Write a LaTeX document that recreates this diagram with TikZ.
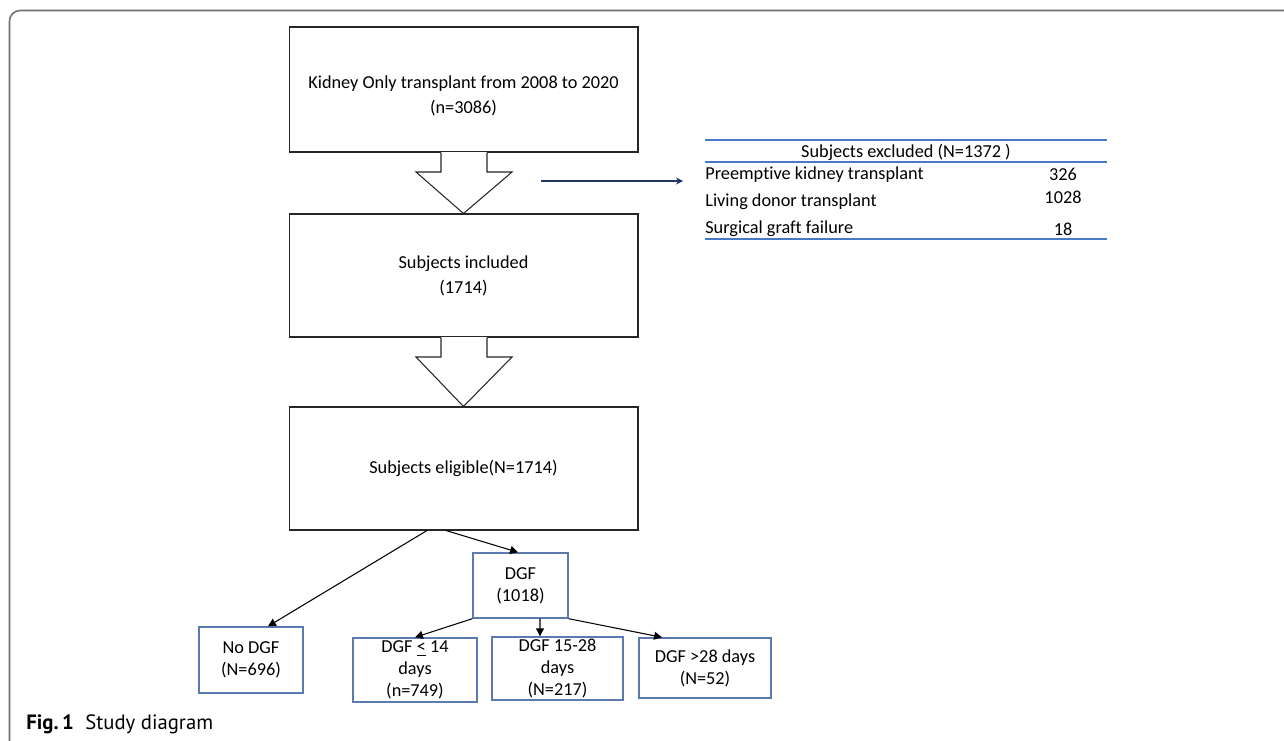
\documentclass[tikz,border=0pt]{standalone}
\usepackage{fontspec}
\setmainfont{Carlito}[Ligatures=NoCommon,RawFeature=-calt]
\newfontfamily\capfont{PT Sans}
\usetikzlibrary{arrows.meta}
\usetikzlibrary{positioning}
\usetikzlibrary{calc}

\definecolor{boxblue}{HTML}{5A7AB0}
\definecolor{ruleblue}{HTML}{4A78C8}
\definecolor{navy}{HTML}{1F3864}
\definecolor{framegray}{HTML}{707070}

\begin{document}
\begin{tikzpicture}[x=0.02cm,y=-0.02cm,
   font=\fontsize{10.4}{14.2}\selectfont,
   bigbox/.style={draw=black!85,line width=0.6pt,minimum width=6.98cm,inner sep=0pt,align=center},
   smallbox/.style={draw=boxblue,line width=0.8pt,inner sep=0pt,align=center,font=\fontsize{10.4}{12.5}\selectfont},
   link/.style={-{Triangle[length=4.5pt,width=4.5pt]},line width=0.6pt},
   blockarrow/.style={draw=black!85,line width=0.6pt,fill=white}]
   \useasboundingbox (0,0) rectangle (1284,740);
   % frame and caption
   \draw[framegray,line width=0.9pt,rounded corners=6pt] (9.5,745) -- (9.5,10.5) -- (1295,10.5);
   \node[anchor=base west,inner sep=0pt] (cap) at (26,729)
      {\capfont\fontsize{11.8}{14}\selectfont\bfseries Fig.\,1\hspace{6.5pt}\mdseries Study diagram};

   % main column
   \node[bigbox,minimum height=2.5cm] (kidney) at (463.5,89.5)
      {\rule{0pt}{15pt}Kidney Only transplant from 2008 to 2020\\(n=3086)};
   \node[bigbox,minimum height=2.46cm] (incl) at (463.5,275.5)
      {Subjects included\\(1714)};
   \node[bigbox,minimum height=2.46cm] (elig) at (463.5,468.5)
      {Subjects eligible(N=1714)};

   % block arrows between the boxes
   \foreach \a/\b in {kidney/incl,incl/elig}{
     \fill[white] ($(\a.south)+(-23,-1)$) rectangle ($(\a.south)+(23,1)$);
     \draw[blockarrow] ($(\a.south)+(-22.5,0)$) -- ++(0,19.5) -- ++(-25,0)
        -- (\b.north) -- ($(\a.south)+(48.5,19.5)$) -- ++(-25,0) -- ($(\a.south)+(23.5,0)$);
   }

   % DGF split
   \node[smallbox,minimum width=1.9cm,minimum height=1.3cm] (dgf) at (520.5,585.5)
      {DGF\\(1018)};
   \node[smallbox,minimum width=2.08cm,minimum height=1.32cm] (nodgf) at (251,660)
      {No DGF\\(N=696)};
   \node[smallbox,minimum width=2.48cm,minimum height=1.28cm] (dgfa) at (415,670)
      {DGF \underline{<} 14\\days\\(n=749)};
   \node[smallbox,minimum width=2.62cm,minimum height=1.26cm] (dgfb) at (557.5,668.5)
      {DGF 15-28\\days\\(N=217)};
   \node[smallbox,minimum width=2.64cm,minimum height=1.2cm] (dgfc) at (705,668)
      {DGF >28 days\\(N=52)};

   \draw[link] ($(elig.south)+(-36.5,0)$) -- ($(nodgf.north)+(17,0)$);
   \draw[link] ($(elig.south)+(-17.5,0)$) -- ($(dgf.north)+(-2.5,0)$);
   \draw[link] (dgf.south west) -- (dgfa.north);
   \draw[link] ($(dgf.south)+(19.5,0)$) -- ($(dgfb.north)+(-17.5,0)$);
   \draw[link] (dgf.south east) -- ($(dgfc.north)+(-43,0)$);

   % excluded subjects
   \coordinate (exfrom) at (541,181);
   \coordinate (exto) at (683,181);
   \draw[navy,line width=1.5pt,-{Stealth[length=4pt,width=4pt]}] (exfrom) -- (exto);

   \draw[ruleblue,line width=0.7pt] (705,140) -- (1107,140);
   \draw[ruleblue,line width=0.7pt] (705,162) -- (1107,162);
   \draw[ruleblue,line width=0.7pt] (705,239) -- (1107,239);
   \node[inner sep=0pt] (exhead) at (906,152) {Subjects excluded (N=1372 )};
   \node[anchor=west,inner sep=0pt] (prempt) at (705,175) {Preemptive kidney transplant};
   \node[anchor=west,inner sep=0pt] (living) at (705,202) {Living donor transplant};
   \node[anchor=west,inner sep=0pt] (surg) at (705,229) {Surgical graft failure};
   \node[inner sep=0pt] (preemptn) at (1063,174) {326};
   \node[inner sep=0pt] (livingn) at (1063,197) {1028};
   \node[inner sep=0pt] (surgn) at (1063,229) {18};
\end{tikzpicture}
\end{document}
